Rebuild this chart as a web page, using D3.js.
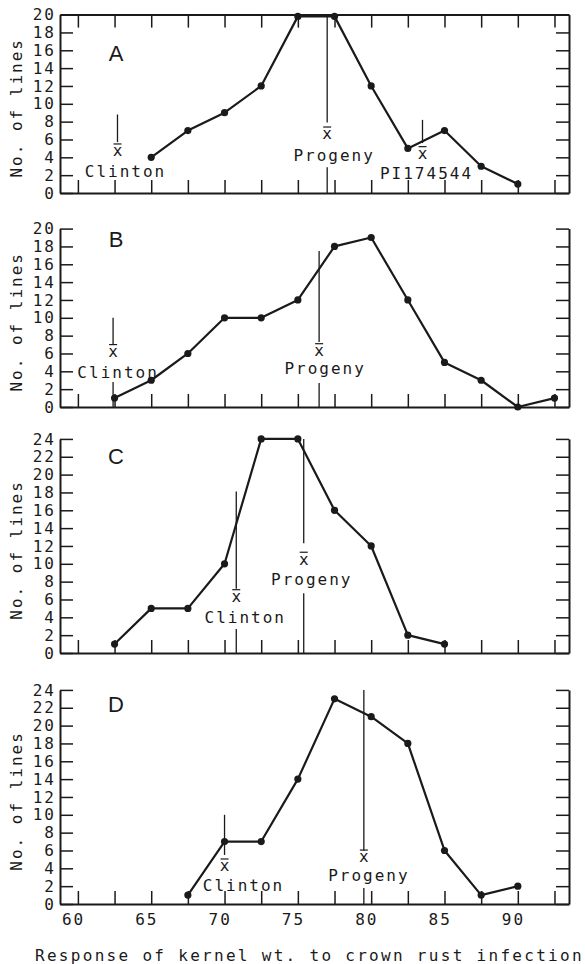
<!DOCTYPE html>
<html>
<head>
<meta charset="utf-8">
<script src="https://cdn.jsdelivr.net/npm/d3@7"></script>
<style>
  body { margin: 0; background: #fff; }
  svg text { font-family: 'DejaVu Sans Mono', monospace; fill: #1a1a1a; }
  .axis .domain { stroke-width: 2; }
  .axis .tick line { stroke-width: 1.5; }
  .axis .tick text { font-size: 16px; letter-spacing: 2px; }
  .ytitle, .meanLabel, .caption { font-size: 16px; letter-spacing: 2px; }
  .letter { font-family: 'Liberation Sans', Arial, sans-serif !important; font-size: 22px; }
</style>
</head>
<body>
<div id="chart"></div>
<script>
// class midpoints on the x axis and the printed labels
const classMidpoints = [60.4, 62.9, 65.4, 67.9, 70.4, 72.9, 75.4, 77.9, 80.4, 82.9, 85.4, 87.9, 90.4, 92.9];
const xTickLabels = [60, 65, 70, 75, 80, 85, 90];

// panel A
const responseA = [65.4, 67.9, 70.4, 72.9, 75.4, 77.9, 80.4, 82.9, 85.4, 87.9, 90.4];
const linesA = [4, 7, 9, 12, 19.8, 19.8, 12, 5, 7, 3, 1];
const meanNamesA = ['Clinton', 'Progeny', 'PI174544'];
const meanValuesA = [63.1, 77.4, 83.9];

// panel B
const responseB = [62.9, 65.4, 67.9, 70.4, 72.9, 75.4, 77.9, 80.4, 82.9, 85.4, 87.9, 90.4, 92.9];
const linesB = [1, 3, 6, 10, 10, 12, 18, 19, 12, 5, 3, 0, 1];
const meanNamesB = ['Clinton', 'Progeny'];
const meanValuesB = [62.8, 76.85];

// panel C
const responseC = [62.9, 65.4, 67.9, 70.4, 72.9, 75.4, 77.9, 80.4, 82.9, 85.4];
const linesC = [1, 5, 5, 10, 24, 24, 16, 12, 2, 1];
const meanNamesC = ['Clinton', 'Progeny'];
const meanValuesC = [71.2, 75.8];

// panel D
const responseD = [67.9, 70.4, 72.9, 75.4, 77.9, 80.4, 82.9, 85.4, 87.9, 90.4];
const linesD = [1, 7, 7, 14, 23, 21, 18, 6, 1, 2];
const meanNamesD = ['Clinton', 'Progeny'];
const meanValuesD = [70.4, 79.9];

const ink = '#1a1a1a';
const unitPx = 8.92;  // px per "line" on every panel
const frameLeft = 60;
const frameRight = 569;

// layout of each panel - bottom in px, annotation spots in y units
const panels = [
  { letter: 'A', letterAt: 15.7, xs: responseA, ys: linesA, yMax: 20, bottom: 193, topFrame: true,
    names: meanNamesA, means: meanValuesA,
    marks: [
      { from: 8.8, to: 5.7, glyph: 4.6, label: 2.4, dx: 7, drop: null },
      { from: 20, to: 7.9, glyph: 6.5, label: 4.2, dx: 6, drop: 2.9 },
      { from: 8.2, to: 5.6, glyph: 4.3, label: 2.2, dx: 3, drop: null }
    ] },
  { letter: 'B', letterAt: 18.8, xs: responseB, ys: linesB, yMax: 20, bottom: 407, topFrame: false,
    names: meanNamesB, means: meanValuesB,
    marks: [
      { from: 10, to: 7.0, glyph: 6.1, label: 3.9, dx: 4, drop: 2.8 },
      { from: 17.5, to: 7.3, glyph: 6.2, label: 4.3, dx: 5, drop: 2.7 }
    ] },
  { letter: 'C', letterAt: 22.1, xs: responseC, ys: linesC, yMax: 24, bottom: 653, topFrame: false,
    names: meanNamesC, means: meanValuesC,
    marks: [
      { from: 18.1, to: 7.2, glyph: 6.2, label: 4.0, dx: 8, drop: 2.7 },
      { from: 24, to: 12.3, glyph: 10.4, label: 8.3, dx: 7, drop: 6.7 }
    ] },
  { letter: 'D', letterAt: 22.4, xs: responseD, ys: linesD, yMax: 24, bottom: 904, topFrame: false,
    names: meanNamesD, means: meanValuesD,
    marks: [
      { from: 10, to: 5.5, glyph: 4.15, label: 2.1, dx: 18, drop: null },
      { from: 24, to: 6.0, glyph: 5.15, label: 3.2, dx: 4, drop: 1.8 }
    ] }
];

const svg = d3.select('#chart').append('svg')
  .attr('width', 585)
  .attr('height', 964);

const x = d3.scaleLinear()
  .domain([59.18, 93.89])
  .range([frameLeft, frameRight]);

function cleanAxis(sel) {
  sel.attr('font-family', null).attr('font-size', null).attr('color', ink).attr('class', 'axis');
}

function drawPanel(p) {
  const top = p.bottom - p.yMax * unitPx;
  const y = d3.scaleLinear().domain([0, p.yMax]).range([p.bottom, top]);
  const yTicks = d3.range(0, p.yMax + 1, 2);
  const g = svg.append('g');

  // left axis, ticks pointing inward
  g.append('g')
    .attr('transform', 'translate(' + frameLeft + ',0)')
    .call(d3.axisLeft(y).tickValues(yTicks).tickSize(-13).tickSizeOuter(0).tickPadding(4))
    .call(cleanAxis);

  // right side, ticks only
  g.append('g')
    .attr('transform', 'translate(' + frameRight + ',0)')
    .call(d3.axisRight(y).tickValues(yTicks).tickSize(-13).tickSizeOuter(0).tickFormat(''))
    .call(cleanAxis);

  g.append('g')
    .attr('transform', 'translate(0,' + p.bottom + ')')
    .call(d3.axisBottom(x).tickValues(classMidpoints).tickSize(-13).tickSizeOuter(0).tickFormat(''))
    .call(cleanAxis);

  // only A is boxed in at the top
  if (p.topFrame) {
    g.append('g')
      .attr('transform', 'translate(0,' + top + ')')
      .call(d3.axisTop(x).tickValues(classMidpoints).tickSize(-13).tickSizeOuter(0).tickFormat(''))
      .call(cleanAxis);
  }

  g.append('text')
    .attr('class', 'ytitle')
    .attr('transform', 'translate(22,' + ((top + p.bottom) / 2 + 4) + ') rotate(-90)')
    .attr('text-anchor', 'middle')
    .text('No. of lines');

  g.append('text')
    .attr('class', 'letter')
    .attr('x', 116)
    .attr('y', y(p.letterAt))
    .attr('dy', '0.36em')
    .attr('text-anchor', 'middle')
    .text(p.letter);

  // mean markers (x-bar)
  p.marks.forEach(function(m, i) {
    const mx = x(p.means[i]);
    const gy = y(m.glyph);
    g.append('line')
      .attr('x1', mx).attr('x2', mx)
      .attr('y1', y(m.from)).attr('y2', y(m.to))
      .attr('stroke', ink).attr('stroke-width', 1.3);
    g.append('line')
      .attr('x1', mx - 4).attr('x2', mx + 4)
      .attr('y1', gy - 8).attr('y2', gy - 8)
      .attr('stroke', ink).attr('stroke-width', 1.2);
    g.append('text')
      .attr('x', mx)
      .attr('y', gy)
      .attr('dy', '0.27em')
      .attr('text-anchor', 'middle')
      .style('font-size', '16px')
      .text('x');
    g.append('text')
      .attr('class', 'meanLabel')
      .attr('x', mx + m.dx + 1)
      .attr('y', y(m.label))
      .attr('dy', '0.36em')
      .attr('text-anchor', 'middle')
      .text(p.names[i]);
    if (m.drop !== null) {
      g.append('line')
        .attr('x1', mx).attr('x2', mx)
        .attr('y1', y(m.drop)).attr('y2', y(0))
        .attr('stroke', ink).attr('stroke-width', 1.3);
    }
  });

  const pts = d3.zip(p.xs, p.ys);
  g.append('path')
    .datum(pts)
    .attr('fill', 'none')
    .attr('stroke', ink)
    .attr('stroke-width', 2.2)
    .attr('stroke-linejoin', 'round')
    .attr('d', d3.line().x(d => x(d[0])).y(d => y(d[1])));

  g.selectAll('circle.pt')
    .data(pts)
    .enter()
    .append('circle')
    .attr('class', 'pt')
    .attr('cx', d => x(d[0]))
    .attr('cy', d => y(d[1]))
    .attr('r', 3.6)
    .attr('fill', ink);
}

panels.forEach(drawPanel);

// printed x labels under the last panel
svg.append('g')
  .attr('transform', 'translate(0,904)')
  .call(d3.axisBottom(x).tickValues(xTickLabels).tickSize(0).tickPadding(10).tickFormat(d3.format('d')))
  .call(cleanAxis)
  .call(g => g.select('.domain').remove())
  .selectAll('text')
  .attr('dx', '1px');

svg.append('text')
  .attr('class', 'caption')
  .attr('x', 35)
  .attr('y', 961)
  .style('letter-spacing', '2.3px')
  .text('Response of kernel wt. to crown rust infection');
</script>
</body>
</html>
